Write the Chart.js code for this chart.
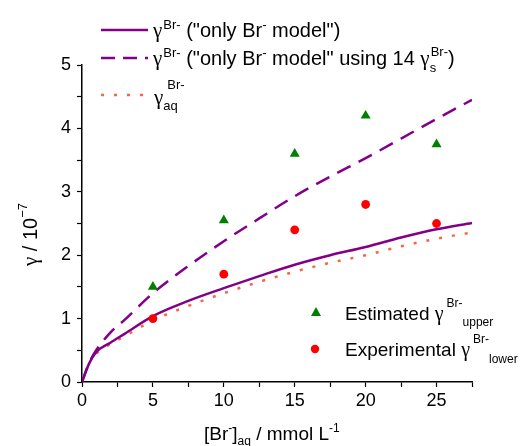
<!DOCTYPE html>
<html>
<head>
<meta charset="utf-8">
<script src="https://cdn.jsdelivr.net/npm/chart.js@4/dist/chart.umd.min.js"></script>
<style>
  html, body { margin: 0; padding: 0; background: #fff; }
  #wrap { width: 523px; height: 446px; position: relative; }
</style>
</head>
<body>
<div id="wrap"><canvas id="myChart"></canvas></div>
<script>
// concentrations where gamma was measured / estimated (mmol/L)
const xData = [5, 10, 15, 20, 25];
const gammaUpper = [1.5, 2.55, 3.6, 4.2, 3.75];   // estimated, upper bound
const gammaLower = [1.0, 1.7, 2.4, 2.8, 2.5];     // experimental, lower bound

// model curves
const xModel = [0, 0.5, 1, 2, 3, 5, 7.5, 10, 12.5, 15, 17.5, 20, 22.5, 25, 27.5];
const yOnlyBr = [0, 0.29, 0.47, 0.62, 0.76, 1.04, 1.28, 1.48, 1.67, 1.85, 2.0, 2.13, 2.28, 2.41, 2.51];
const yOnlyBr14 = [0, 0.3, 0.5, 0.78, 0.98, 1.40, 1.83, 2.22, 2.58, 2.93, 3.24, 3.53, 3.84, 4.15, 4.45];
const xAq = [1, 2, 3, 5, 7.5, 10, 12.5, 15, 17.5, 20, 22.5, 25, 27.5];
const yAq = [0.45, 0.6, 0.72, 0.97, 1.2, 1.40, 1.58, 1.74, 1.88, 2.0, 2.14, 2.26, 2.36];

// axis ticks
const xMajor = [0, 5, 10, 15, 20, 25];
const yMajor = [0, 1, 2, 3, 4, 5];

const PURPLE = '#820088';
const ORANGE = '#F7644A';
const GREEN = '#008000';
const RED = '#FF0000';
const FONT = '"Liberation Sans", Arial, sans-serif';
const GREEK = '"Liberation Serif", "DejaVu Serif", serif';

const toXY = (xs, ys) => xs.map((x, i) => ({ x: x, y: ys[i] }));

// draws a row of text pieces, some of them raised or lowered
function drawRuns(ctx, x, y, runs) {
  runs.forEach(r => {
    ctx.font = r.size + 'px ' + (r.greek ? GREEK : FONT);
    const px = x + (r.dx || 0);
    ctx.fillText(r.t, px, y + (r.dy || 0));
    if (!r.hold) x = px + ctx.measureText(r.t).width;
  });
}

const textPlugin = {
  id: 'textPlugin',
  afterDraw(chart) {
    const ctx = chart.ctx;
    ctx.save();
    ctx.fillStyle = '#000';
    ctx.textBaseline = 'alphabetic';
    ctx.textAlign = 'left';

    // legend line samples
    ctx.lineWidth = 2.5;
    ctx.strokeStyle = PURPLE;
    ctx.beginPath(); ctx.moveTo(101, 30); ctx.lineTo(148, 30); ctx.stroke();
    ctx.setLineDash([14, 8]);
    ctx.beginPath(); ctx.moveTo(101, 58); ctx.lineTo(148, 58); ctx.stroke();
    ctx.setLineDash([3, 10]);
    ctx.strokeStyle = ORANGE;
    ctx.beginPath(); ctx.moveTo(101, 95); ctx.lineTo(148, 95); ctx.stroke();
    ctx.setLineDash([]);

    drawRuns(ctx, 153, 37, [
      { t: 'γ', size: 21, greek: true }, { t: 'Br-', size: 13, dy: -8, dx: 1 },
      { t: ' ("only Br', size: 20 }, { t: '-', size: 13, dy: -8 },
      { t: ' model")', size: 20 }
    ]);
    drawRuns(ctx, 153, 65, [
      { t: 'γ', size: 21, greek: true }, { t: 'Br-', size: 13, dy: -8, dx: 1 },
      { t: ' ("only Br', size: 20 }, { t: '-', size: 13, dy: -8 },
      { t: ' model" using 14 ', size: 20 },
      { t: 'γ', size: 21, greek: true }, { t: 's', size: 13, dy: 7, hold: true },
      { t: 'Br-', size: 13, dy: -9, dx: 1 }, { t: ')', size: 20 }
    ]);
    drawRuns(ctx, 154, 104, [
      { t: 'γ', size: 21, greek: true }, { t: 'aq', size: 13, dy: 6, hold: true },
      { t: 'Br-', size: 13, dy: -15, dx: 4 }
    ]);

    // marker legend
    ctx.fillStyle = GREEN;
    ctx.beginPath();
    ctx.moveTo(316, 307); ctx.lineTo(321, 316); ctx.lineTo(311, 316); ctx.closePath();
    ctx.fill();
    ctx.fillStyle = RED;
    ctx.beginPath(); ctx.arc(315, 349, 4.2, 0, Math.PI * 2); ctx.fill();
    ctx.fillStyle = '#000';
    drawRuns(ctx, 345, 320, [
      { t: 'Estimated ', size: 19 }, { t: 'γ', size: 20, greek: true },
      { t: 'Br-', size: 12, dy: -13, dx: 3 }, { t: 'upper', size: 12, dy: 6 }
    ]);
    drawRuns(ctx, 345, 356, [
      { t: 'Experimental ', size: 19 }, { t: 'γ', size: 20, greek: true },
      { t: 'Br-', size: 12, dy: -13, dx: 3 }, { t: 'lower', size: 12, dy: 7 }
    ]);

    // axis titles
    drawRuns(ctx, 204, 440, [
      { t: '[Br', size: 19 }, { t: '-', size: 12, dy: -8 },
      { t: ']', size: 19 }, { t: 'aq', size: 12, dy: 5 },
      { t: ' / mmol L', size: 19 }, { t: '-1', size: 12, dy: -8 }
    ]);
    ctx.translate(37, 266);
    ctx.rotate(-Math.PI / 2);
    drawRuns(ctx, 0, 0, [
      { t: 'γ', size: 21, greek: true }, { t: ' / 10', size: 20 },
      { t: '−7', size: 13, dy: -10 }
    ]);
    ctx.restore();
  }
};

const ctx = document.getElementById('myChart');

new Chart(ctx, {
  type: 'line',
  data: {
    datasets: [
      {
        label: 'Estimated upper',
        data: toXY(xData, gammaUpper),
        showLine: false,
        pointStyle: 'triangle',
        pointRadius: 5.8,
        backgroundColor: GREEN,
        borderColor: GREEN,
        borderWidth: 0
      },
      {
        label: 'Experimental lower',
        data: toXY(xData, gammaLower),
        showLine: false,
        pointStyle: 'circle',
        pointRadius: 4.4,
        backgroundColor: RED,
        borderColor: RED,
        borderWidth: 0
      },
      {
        label: 'only Br model',
        data: toXY(xModel, yOnlyBr),
        borderColor: PURPLE,
        borderWidth: 2.5,
        pointRadius: 0,
        cubicInterpolationMode: 'monotone'
      },
      {
        label: 'only Br model using 14',
        data: toXY(xModel, yOnlyBr14),
        borderColor: PURPLE,
        borderWidth: 2.5,
        borderDash: [15, 9],
        pointRadius: 0,
        cubicInterpolationMode: 'monotone'
      },
      {
        label: 'aq',
        data: toXY(xAq, yAq),
        borderColor: ORANGE,
        borderWidth: 2.5,
        borderDash: [3, 10],
        pointRadius: 0,
        cubicInterpolationMode: 'monotone'
      }
    ]
  },
  options: {
    responsive: true,
    maintainAspectRatio: false,
    animation: false,
    layout: { padding: { left: 0, top: 65, right: 51, bottom: 0 } },
    plugins: {
      legend: { display: false },
      tooltip: { enabled: false }
    },
    scales: {
      x: {
        type: 'linear',
        min: 0,
        max: 27.5,
        afterFit: s => { s.height = 64; },
        border: { display: true, color: '#000', width: 1.5 },
        grid: { drawOnChartArea: false, drawTicks: true, tickLength: 5, tickColor: '#000', tickWidth: 1.2 },
        ticks: {
          stepSize: 2.5,
          autoSkip: false,
          maxRotation: 0,
          padding: 3,
          color: '#000',
          font: { family: FONT, size: 18 },
          callback: v => xMajor.includes(v) ? String(v) : ''
        }
      },
      y: {
        min: 0,
        max: 5,
        afterFit: s => { s.width = 82; },
        border: { display: true, color: '#000', width: 1.5 },
        grid: { drawOnChartArea: false, drawTicks: true, tickLength: 5, tickColor: '#000', tickWidth: 1.2 },
        ticks: {
          stepSize: 0.5,
          autoSkip: false,
          padding: 6,
          color: '#000',
          font: { family: FONT, size: 18 },
          callback: v => yMajor.includes(v) ? String(v) : ''
        }
      }
    }
  },
  plugins: [textPlugin]
});
</script>
</body>
</html>
